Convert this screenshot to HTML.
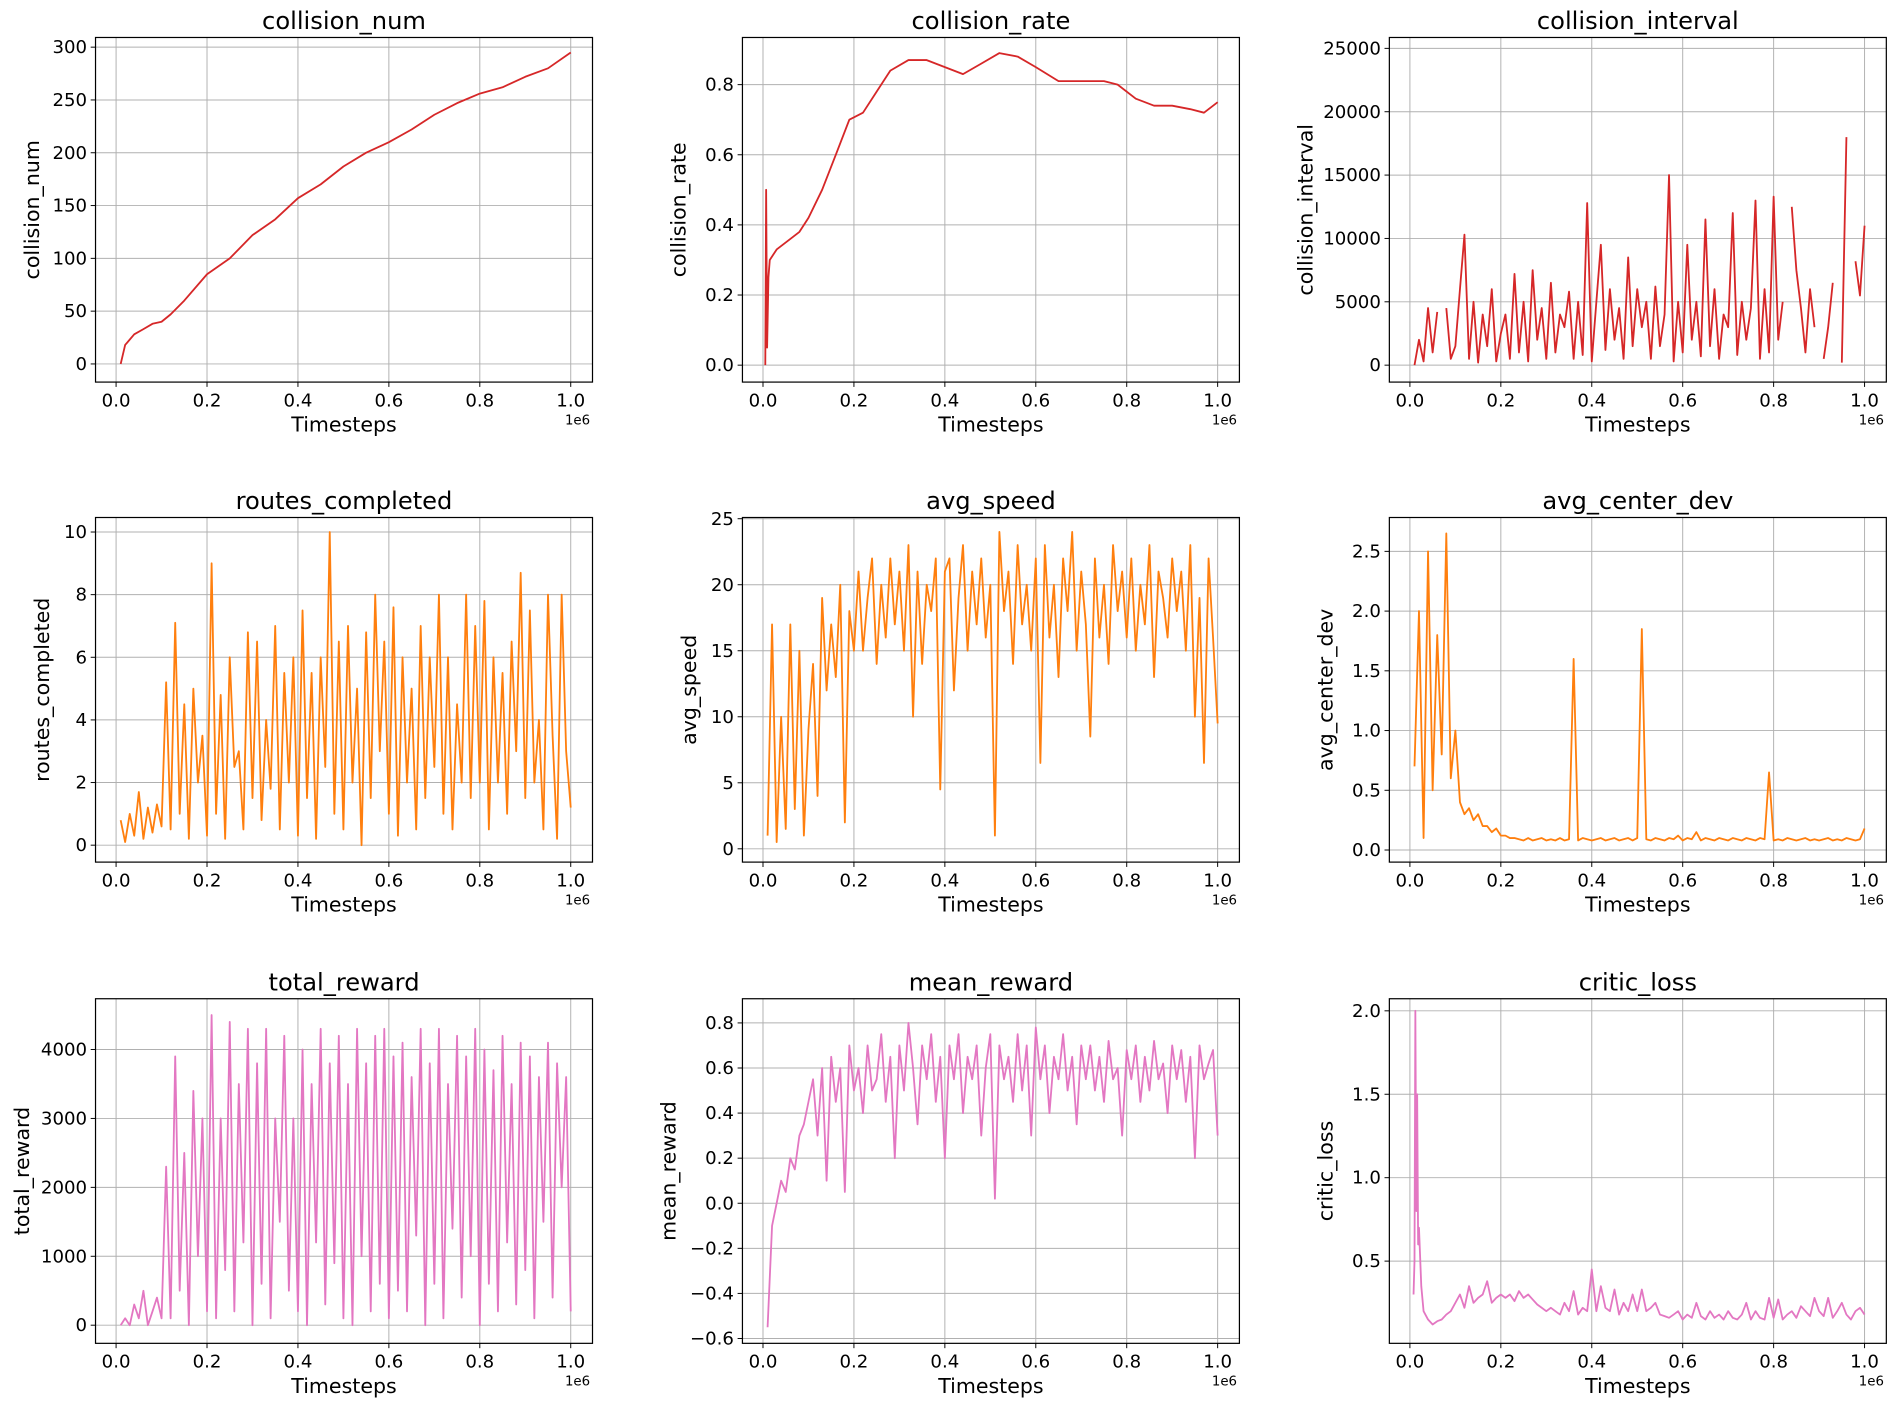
<!DOCTYPE html>
<html><head><meta charset="utf-8"><style>
html,body{margin:0;padding:0;background:#fff;}
svg{display:block;font-family:"DejaVu Sans","Liberation Sans",sans-serif;}
</style></head><body>
<svg id="fig" width="1896" height="1405" viewBox="0 0 1568 1162" preserveAspectRatio="none" xmlns="http://www.w3.org/2000/svg"></svg>
<script>
const xTicks = [0, 0.2, 0.4, 0.6, 0.8, 1.0];
const xTickLabels = ["0.0","0.2","0.4","0.6","0.8","1.0"];

const cnX = [0.01,0.02,0.04,0.06,0.08,0.1,0.12,0.15,0.2,0.25,0.3,0.35,0.4,0.45,0.5,0.55,0.6,0.65,0.7,0.75,0.8,0.85,0.9,0.95,1.0];
const cnY = [0,18,28,33,38,40,47,60,85,100,122,137,157,170,187,200,210,222,236,247,256,262,272,280,295];

const crX = [0.005,0.007,0.009,0.012,0.015,0.03,0.06,0.08,0.1,0.13,0.16,0.19,0.22,0.25,0.28,0.32,0.36,0.4,0.44,0.48,0.52,0.56,0.6,0.65,0.7,0.75,0.78,0.82,0.86,0.9,0.94,0.97,1.0];
const crY = [0.0,0.5,0.05,0.25,0.3,0.33,0.36,0.38,0.42,0.5,0.6,0.7,0.72,0.78,0.84,0.87,0.87,0.85,0.83,0.86,0.89,0.88,0.85,0.81,0.81,0.81,0.8,0.76,0.74,0.74,0.73,0.72,0.75];

const ciY = [0,2000,300,4500,1000,4200,null,4500,500,1500,
6000,10300,500,5000,200,4000,1500,6000,300,2500,
4000,500,7200,1000,5000,300,7500,2000,4500,500,
6500,1000,4000,3000,5800,500,5000,800,12800,300,
5000,9500,1200,6000,2000,4500,500,8500,1500,6000,
3000,5000,500,6200,1500,4000,15000,300,5000,1000,
9500,2000,5000,700,11500,1500,6000,500,4000,3000,
12000,800,5000,2000,4500,13000,500,6000,1000,13300,
2000,5000,null,12500,7500,4500,1000,6000,3000,null,
500,3000,6500,null,200,18000,null,8200,5500,11000];

const rcY = [0.8,0.1,1.0,0.3,1.7,0.2,1.2,0.4,1.3,0.6,
5.2,0.5,7.1,1.0,4.5,0.2,5.0,2.0,3.5,0.3,
9.0,1.0,4.8,0.2,6.0,2.5,3.0,0.5,6.8,1.5,
6.5,0.8,4.0,1.8,7.0,0.5,5.5,2.0,6.0,0.3,
7.5,1.5,5.5,0.2,6.0,2.5,10.0,1.0,6.5,0.5,
7.0,2.0,5.0,0.0,6.8,1.5,8.0,3.0,6.5,1.0,
7.6,0.3,6.0,2.0,5.0,0.5,7.0,1.5,6.0,2.5,
8.0,1.0,6.0,0.5,4.5,2.0,8.0,1.5,7.0,2.0,
7.8,0.5,6.0,2.0,5.5,1.0,6.5,3.0,8.7,1.5,
7.5,2.0,4.0,0.5,8.0,3.5,0.2,8.0,3.0,1.2];

const spY = [1,17,0.5,10,1.5,17,3,15,1,9,
14,4,19,12,17,13,20,2,18,15,
21,15,19,22,14,20,16,22,17,21,
15,23,10,21,14,20,18,22,4.5,21,
22,12,19,23,15,21,17,22,16,20,
1,24,18,21,14,23,17,20,15,22,
6.5,23,16,20,13,22,18,24,15,21,
17,8.5,22,16,20,14,23,18,21,16,
22,15,20,17,23,13,21,19,16,22,
18,21,15,23,10,19,6.5,22,16,9.5];

const cdY = [0.7,2.0,0.1,2.5,0.5,1.8,0.8,2.65,0.6,1.0,
0.4,0.3,0.35,0.25,0.3,0.2,0.2,0.15,0.18,0.12,
0.12,0.1,0.1,0.09,0.08,0.1,0.08,0.09,0.1,0.08,
0.09,0.08,0.1,0.08,0.09,1.6,0.08,0.1,0.09,0.08,
0.09,0.1,0.08,0.09,0.1,0.08,0.09,0.1,0.08,0.1,
1.85,0.09,0.08,0.1,0.09,0.08,0.1,0.09,0.12,0.08,
0.1,0.09,0.15,0.08,0.1,0.09,0.08,0.1,0.09,0.08,
0.1,0.09,0.08,0.1,0.09,0.08,0.1,0.09,0.65,0.08,
0.09,0.08,0.1,0.09,0.08,0.09,0.1,0.08,0.09,0.08,
0.09,0.1,0.08,0.09,0.08,0.1,0.09,0.08,0.09,0.18];

const trY = [0,100,0,300,100,500,0,200,400,100,
2300,100,3900,500,2500,0,3400,1000,3000,200,
4500,100,3000,800,4400,200,3500,1200,4300,0,
3800,600,4300,100,3000,1500,4200,500,3000,200,
4000,0,3500,1200,4300,300,3800,900,4200,100,
3500,0,4300,1000,3800,200,4200,600,4300,100,
3900,500,4100,200,3600,1300,4300,0,3800,600,
4300,100,3500,1400,4200,400,3900,1000,4300,0,
4000,600,3700,200,4200,1200,3500,300,4100,800,
3900,100,3600,1500,4100,400,3800,2000,3600,200];

const mrY = [-0.55,-0.1,0.0,0.1,0.05,0.2,0.15,0.3,0.35,0.45,
0.55,0.3,0.6,0.1,0.65,0.45,0.6,0.05,0.7,0.5,
0.6,0.4,0.7,0.5,0.55,0.75,0.45,0.65,0.2,0.7,
0.5,0.8,0.6,0.35,0.7,0.55,0.75,0.45,0.65,0.2,
0.7,0.55,0.75,0.4,0.65,0.55,0.7,0.3,0.6,0.75,
0.02,0.7,0.55,0.65,0.45,0.75,0.5,0.7,0.3,0.78,
0.55,0.7,0.4,0.65,0.55,0.75,0.5,0.65,0.35,0.7,
0.55,0.7,0.5,0.65,0.45,0.72,0.55,0.6,0.3,0.68,
0.55,0.7,0.45,0.65,0.5,0.72,0.55,0.62,0.4,0.7,
0.55,0.68,0.45,0.65,0.2,0.7,0.55,0.62,0.68,0.3];

const clHeadX = [0.008,0.01,0.012,0.014,0.016,0.018,0.02,0.025,0.03,0.04,0.05,0.06,0.07,0.08,0.09,0.1];
const clHeadY = [0.3,0.5,2.0,0.8,1.5,0.6,0.7,0.35,0.2,0.15,0.12,0.14,0.15,0.18,0.2,0.25];
const clTailY = [0.3,0.22,0.35,0.25,0.28,0.3,0.38,0.25,0.28,0.3,
0.28,0.3,0.26,0.32,0.28,0.3,0.27,0.24,0.22,0.2,
0.22,0.2,0.18,0.25,0.2,0.32,0.18,0.22,0.2,0.45,
0.2,0.35,0.22,0.2,0.33,0.18,0.25,0.2,0.3,0.2,
0.33,0.2,0.22,0.25,0.18,0.17,0.16,0.18,0.2,0.15,
0.18,0.16,0.25,0.17,0.15,0.2,0.16,0.18,0.15,0.2,
0.16,0.15,0.18,0.25,0.15,0.2,0.16,0.15,0.28,0.16,
0.27,0.15,0.18,0.2,0.16,0.23,0.2,0.17,0.28,0.2,
0.17,0.28,0.16,0.2,0.25,0.18,0.15,0.2,0.22,0.18];

const NS = "http://www.w3.org/2000/svg";
const svg = document.getElementById("fig");
function mk(tag, attrs, parent){ const e=document.createElementNS(NS,tag); for(const k in attrs) e.setAttribute(k,attrs[k]); (parent||svg).appendChild(e); return e; }
function uniX(n){ const a=[]; for(let i=0;i<n;i++) a.push((i+1)/100); return a; }

const RED="#d62728", ORA="#ff7f0e", PNK="#e377c2";
const panels = [
 {name:"collision_num", col:0,row:0, x:cnX, y:cnY, color:RED, yt:[0,50,100,150,200,250,300], yl:["0","50","100","150","200","250","300"], r:[0,301,300,39]},
 {name:"collision_rate", col:1,row:0, x:crX, y:crY, color:RED, yt:[0,0.2,0.4,0.6,0.8], yl:["0.0","0.2","0.4","0.6","0.8"], r:[0,302,0.8,70]},
 {name:"collision_interval", col:2,row:0, x:uniX(ciY.length), y:ciY, color:RED, yt:[0,5000,10000,15000,20000,25000], yl:["0","5000","10000","15000","20000","25000"], r:[0,302,25000,40]},
 {name:"routes_completed", col:0,row:1, x:uniX(rcY.length), y:rcY, color:ORA, yt:[0,2,4,6,8,10], yl:["0","2","4","6","8","10"], r:[0,699,10,440]},
 {name:"avg_speed", col:1,row:1, x:uniX(spY.length), y:spY, color:ORA, yt:[0,5,10,15,20,25], yl:["0","5","10","15","20","25"], r:[0,702,25,429]},
 {name:"avg_center_dev", col:2,row:1, x:uniX(cdY.length), y:cdY, color:ORA, yt:[0,0.5,1,1.5,2,2.5], yl:["0.0","0.5","1.0","1.5","2.0","2.5"], r:[0,703,2.5,456]},
 {name:"total_reward", col:0,row:2, x:uniX(trY.length), y:trY, color:PNK, yt:[0,1000,2000,3000,4000], yl:["0","1000","2000","3000","4000"], r:[0,1096,4000,868]},
 {name:"mean_reward", col:1,row:2, x:uniX(mrY.length), y:mrY, color:PNK, yt:[-0.6,-0.4,-0.2,0,0.2,0.4,0.6,0.8], yl:["\u22120.6","\u22120.4","\u22120.2","0.0","0.2","0.4","0.6","0.8"], r:[-0.6,1107,0.8,846]},
 {name:"critic_loss", col:2,row:2, x:clHeadX.concat(uniX(100).slice(10)), y:clHeadY.concat(clTailY), color:PNK, yt:[0.5,1,1.5,2], yl:["0.5","1.0","1.5","2.0"], r:[0.5,1043,2.0,836]}
];
const colL=[79,614,1149], rowT=[31,428,826], W=411, H=285;

panels.forEach(p=>{
  const L=colL[p.col], T=rowT[p.row], B=T+H, R=L+W;
  const g = mk("g",{});
  
  
  const sx = v => L+17+v*376;
  const sy = v => p.r[1] + (v-p.r[0])*(p.r[3]-p.r[1])/(p.r[2]-p.r[0]);
  xTicks.forEach((t,i)=>{
    const X=sx(t);
    const gl = mk("line",{x1:X,x2:X,y1:T,y2:B,stroke:"#b0b0b0","stroke-width":0.8},g);
    
    
    mk("line",{x1:X,x2:X,y1:B,y2:B+4,stroke:"#000","stroke-width":0.8},g);
    const tl = mk("text",{x:X,y:B+20,"font-size":15,"text-anchor":"middle",fill:"#000"},g);
    tl.textContent = xTickLabels[i];
    
    
  });
  let maxLen=0;
  p.yt.forEach((t,i)=>{
    const Y=sy(t);
    const gl = mk("line",{x1:L,x2:R,y1:Y,y2:Y,stroke:"#b0b0b0","stroke-width":0.8},g);
    
    
    mk("line",{x1:L-4,x2:L,y1:Y,y2:Y,stroke:"#000","stroke-width":0.8},g);
    const tl = mk("text",{x:L-7,y:Y+5,"font-size":15,"text-anchor":"end",fill:"#000"},g);
    tl.textContent = p.yl[i];
    
    
    maxLen=Math.max(maxLen,p.yl[i].length);
  });
  let d="", pen=false;
  for(let i=0;i<p.y.length;i++){
    if(p.y[i]===null){pen=false;continue;}
    d += (pen?"L":"M")+sx(p.x[i]).toFixed(1)+","+sy(p.y[i]).toFixed(1);
    pen=true;
  }
  const path = mk("path",{d:d,fill:"none",stroke:p.color,"stroke-width":1.5,"stroke-linejoin":"round"},g);
  
  
  const fr = mk("rect",{x:L,y:T,width:W,height:H,fill:"none",stroke:"#000","stroke-width":1},g);
  
  
  const tt = mk("text",{x:L+W/2,y:T-7,"font-size":20,"text-anchor":"middle",fill:"#000"},g);
  tt.textContent=p.name;
  
  
  const xl = mk("text",{x:L+W/2,y:B+41,"font-size":17,"text-anchor":"middle",fill:"#000"},g);
  xl.textContent="Timesteps";
  
  
  const ex = mk("text",{x:R-2,y:B+35,"font-size":11,"text-anchor":"end",fill:"#000"},g);
  ex.textContent="1e6";
  
  
  const yx = L-8-maxLen*8.3-14;
  const yl = mk("text",{x:yx,y:T+H/2,"font-size":17,"text-anchor":"middle",fill:"#000",transform:`rotate(-90 ${yx} ${T+H/2})`},g);
  yl.textContent=p.name;
  
  
});
</script>
</body></html>
